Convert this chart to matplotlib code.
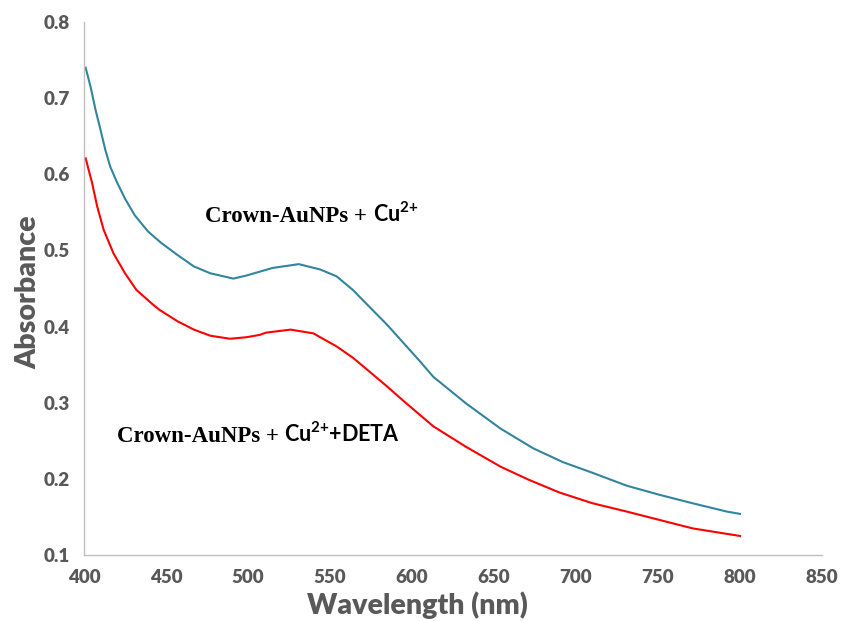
import matplotlib
matplotlib.use("Agg")
import matplotlib.pyplot as plt
from matplotlib.offsetbox import TextArea, HPacker, AnnotationBbox

# Data
wl_cu = [401, 404, 407, 410, 413, 416, 420, 425, 431, 439, 447, 457, 467, 477, 491,
         499, 507, 515, 531, 544, 554, 564, 574, 585, 595, 605, 613, 633, 654, 674,
         692, 710, 731, 751, 771, 792, 800]
abs_cu = [0.740, 0.715, 0.685, 0.659, 0.632, 0.610, 0.590, 0.568, 0.546, 0.525, 0.510,
          0.494, 0.479, 0.470, 0.463, 0.467, 0.472, 0.477, 0.482, 0.475, 0.466, 0.448,
          0.426, 0.402, 0.378, 0.354, 0.334, 0.299, 0.266, 0.240, 0.222, 0.208, 0.191,
          0.179, 0.168, 0.157, 0.154]

wl_deta = [401, 405, 408, 412, 418, 425, 432, 442, 446, 457, 467, 477, 489, 499, 507,
           511, 526, 540, 544, 554, 564, 574, 585, 595, 601, 613, 633, 654, 671, 690,
           710, 731, 751, 771, 800]
abs_deta = [0.621, 0.588, 0.558, 0.527, 0.496, 0.470, 0.448, 0.429, 0.422, 0.407, 0.396,
            0.388, 0.384, 0.386, 0.389, 0.392, 0.396, 0.391, 0.386, 0.374, 0.359, 0.341,
            0.321, 0.302, 0.291, 0.269, 0.242, 0.216, 0.199, 0.182, 0.168, 0.157, 0.146,
            0.135, 0.125]

x_ticks = [400, 450, 500, 550, 600, 650, 700, 750, 800, 850]
y_ticks = [0.1, 0.2, 0.3, 0.4, 0.5, 0.6, 0.7, 0.8]

label_cu = ("Crown-AuNPs +", r"Cu$^{2{+}}$")
label_deta = ("Crown-AuNPs +", r"Cu$^{2{+}}$+DETA")

TEAL = "#31859C"
RED = "#FF0000"
GRAY = "#595959"
SANS = ["Lato", "DejaVu Sans"]
SERIF = ["Liberation Serif", "DejaVu Serif"]

plt.rcParams["mathtext.fontset"] = "custom"
plt.rcParams["mathtext.rm"] = "Lato:bold"
plt.rcParams["mathtext.bf"] = "Lato:bold"
plt.rcParams["mathtext.it"] = "Lato:bold"
plt.rcParams["mathtext.default"] = "regular"

fig = plt.figure(figsize=(8.41, 6.21), dpi=100)
ax = fig.add_axes([84 / 841, 66 / 621, 738 / 841, 533 / 621])

ax.plot(wl_cu, abs_cu, color=TEAL, lw=1.5)
ax.plot(wl_deta, abs_deta, color=RED, lw=1.5)

ax.set_xlim(400, 850)
ax.set_ylim(0.1, 0.8)
ax.set_xticks(x_ticks)
ax.set_yticks(y_ticks)
ax.set_xticklabels([str(v) for v in x_ticks])
ax.set_yticklabels([f"{v:.1f}" for v in y_ticks])
ax.tick_params(length=0, labelsize=13.5, labelcolor=GRAY, pad=10)
for lab in ax.get_xticklabels() + ax.get_yticklabels():
    lab.set_family(SANS)
    lab.set_fontweight("heavy")

for s in ["top", "right"]:
    ax.spines[s].set_visible(False)
for s in ["left", "bottom"]:
    ax.spines[s].set_color("#BFBFBF")
    ax.spines[s].set_linewidth(1.0)

ax.set_xlabel("Wavelength (nm)", family=SANS, fontweight="heavy", fontsize=20.5, color=GRAY)
ax.set_ylabel("Absorbance", family=SANS, fontweight="heavy", fontsize=20.5, color=GRAY)
ax.xaxis.set_label_coords((417 - 84) / 738, -50 / 533)
ax.yaxis.set_label_coords((28 - 84) / 738, (555 - 292) / 533)
ax.xaxis.label.set_va("center")
ax.yaxis.label.set_va("center")


def mixed_label(parts, xy):
    a = TextArea(parts[0], textprops=dict(family=SERIF, fontweight="bold", fontsize=16.5, color="black"))
    b = TextArea(parts[1], textprops=dict(family=SANS, fontweight="bold", fontsize=15.5, color="black"))
    box = HPacker(children=[a, b], align="baseline", pad=0, sep=4)
    ab = AnnotationBbox(box, xy, xycoords="data", box_alignment=(0, 0.5), frameon=False, pad=0)
    ax.add_artist(ab)


mixed_label(label_cu, (474, 0.547))
mixed_label(label_deta, (420, 0.258))

fig.savefig("out.png", dpi=100)
